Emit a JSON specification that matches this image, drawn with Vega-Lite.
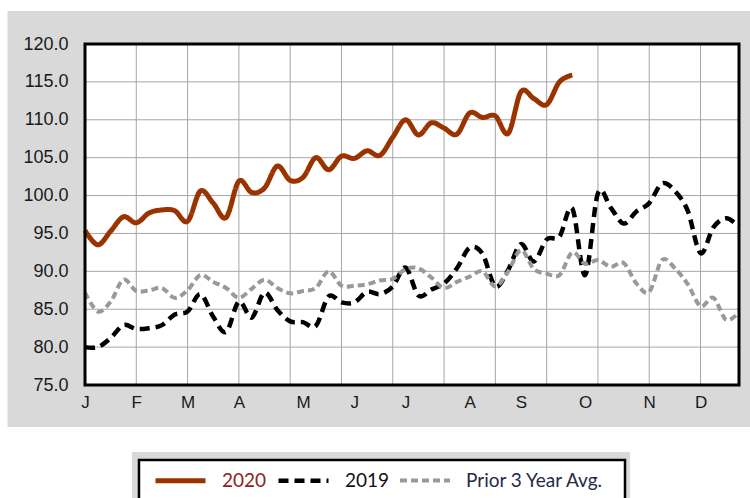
{
  "$schema": "https://vega.github.io/schema/vega-lite/v6.json",
  "width": 654,
  "height": 341,
  "autosize": {"type": "none"},
  "padding": {"left": 85, "top": 44, "right": 11, "bottom": 113},
  "background": "#d9d9d9",
  "config": {"view": {"stroke": null, "fill": "white"}},
  "datasets": {
    "sales": [
      {"week": 1, "series": "2020", "value": 95.4},
      {"week": 2, "series": "2020", "value": 93.5},
      {"week": 3, "series": "2020", "value": 95.3},
      {"week": 4, "series": "2020", "value": 97.2},
      {"week": 5, "series": "2020", "value": 96.4},
      {"week": 6, "series": "2020", "value": 97.7},
      {"week": 7, "series": "2020", "value": 98.1},
      {"week": 8, "series": "2020", "value": 98.0},
      {"week": 9, "series": "2020", "value": 96.6},
      {"week": 10, "series": "2020", "value": 100.6},
      {"week": 11, "series": "2020", "value": 99.0},
      {"week": 12, "series": "2020", "value": 97.1},
      {"week": 13, "series": "2020", "value": 101.9},
      {"week": 14, "series": "2020", "value": 100.4},
      {"week": 15, "series": "2020", "value": 101.0},
      {"week": 16, "series": "2020", "value": 103.9},
      {"week": 17, "series": "2020", "value": 102.0},
      {"week": 18, "series": "2020", "value": 102.4},
      {"week": 19, "series": "2020", "value": 105.0},
      {"week": 20, "series": "2020", "value": 103.4},
      {"week": 21, "series": "2020", "value": 105.2},
      {"week": 22, "series": "2020", "value": 104.9},
      {"week": 23, "series": "2020", "value": 105.9},
      {"week": 24, "series": "2020", "value": 105.3},
      {"week": 25, "series": "2020", "value": 107.7},
      {"week": 26, "series": "2020", "value": 110.0},
      {"week": 27, "series": "2020", "value": 108.0},
      {"week": 28, "series": "2020", "value": 109.6},
      {"week": 29, "series": "2020", "value": 108.9},
      {"week": 30, "series": "2020", "value": 108.1},
      {"week": 31, "series": "2020", "value": 110.9},
      {"week": 32, "series": "2020", "value": 110.3},
      {"week": 33, "series": "2020", "value": 110.5},
      {"week": 34, "series": "2020", "value": 108.2},
      {"week": 35, "series": "2020", "value": 113.7},
      {"week": 36, "series": "2020", "value": 112.8},
      {"week": 37, "series": "2020", "value": 112.0},
      {"week": 38, "series": "2020", "value": 115.0},
      {"week": 39, "series": "2020", "value": 115.9},
      {"week": 1, "series": "2019", "value": 80.0},
      {"week": 2, "series": "2019", "value": 80.0},
      {"week": 3, "series": "2019", "value": 81.2},
      {"week": 4, "series": "2019", "value": 82.9},
      {"week": 5, "series": "2019", "value": 82.4},
      {"week": 6, "series": "2019", "value": 82.5},
      {"week": 7, "series": "2019", "value": 82.9},
      {"week": 8, "series": "2019", "value": 84.3},
      {"week": 9, "series": "2019", "value": 84.7},
      {"week": 10, "series": "2019", "value": 87.0},
      {"week": 11, "series": "2019", "value": 84.0},
      {"week": 12, "series": "2019", "value": 82.0},
      {"week": 13, "series": "2019", "value": 86.0},
      {"week": 14, "series": "2019", "value": 83.9},
      {"week": 15, "series": "2019", "value": 87.2},
      {"week": 16, "series": "2019", "value": 84.9},
      {"week": 17, "series": "2019", "value": 83.4},
      {"week": 18, "series": "2019", "value": 83.3},
      {"week": 19, "series": "2019", "value": 82.8},
      {"week": 20, "series": "2019", "value": 86.7},
      {"week": 21, "series": "2019", "value": 85.9},
      {"week": 22, "series": "2019", "value": 85.9},
      {"week": 23, "series": "2019", "value": 87.3},
      {"week": 24, "series": "2019", "value": 87.0},
      {"week": 25, "series": "2019", "value": 88.0},
      {"week": 26, "series": "2019", "value": 90.5},
      {"week": 27, "series": "2019", "value": 86.8},
      {"week": 28, "series": "2019", "value": 87.6},
      {"week": 29, "series": "2019", "value": 88.4},
      {"week": 30, "series": "2019", "value": 90.4},
      {"week": 31, "series": "2019", "value": 93.1},
      {"week": 32, "series": "2019", "value": 92.3},
      {"week": 33, "series": "2019", "value": 88.0},
      {"week": 34, "series": "2019", "value": 90.2},
      {"week": 35, "series": "2019", "value": 93.6},
      {"week": 36, "series": "2019", "value": 91.3},
      {"week": 37, "series": "2019", "value": 94.2},
      {"week": 38, "series": "2019", "value": 94.6},
      {"week": 39, "series": "2019", "value": 98.3},
      {"week": 40, "series": "2019", "value": 89.5},
      {"week": 41, "series": "2019", "value": 100.3},
      {"week": 42, "series": "2019", "value": 98.4},
      {"week": 43, "series": "2019", "value": 96.3},
      {"week": 44, "series": "2019", "value": 97.9},
      {"week": 45, "series": "2019", "value": 99.0},
      {"week": 46, "series": "2019", "value": 101.6},
      {"week": 47, "series": "2019", "value": 100.6},
      {"week": 48, "series": "2019", "value": 98.0},
      {"week": 49, "series": "2019", "value": 92.4},
      {"week": 50, "series": "2019", "value": 95.8},
      {"week": 51, "series": "2019", "value": 97.0},
      {"week": 52, "series": "2019", "value": 95.9},
      {"week": 1, "series": "Prior 3 Year Avg.", "value": 87.2},
      {"week": 2, "series": "Prior 3 Year Avg.", "value": 84.7},
      {"week": 3, "series": "Prior 3 Year Avg.", "value": 86.0},
      {"week": 4, "series": "Prior 3 Year Avg.", "value": 88.9},
      {"week": 5, "series": "Prior 3 Year Avg.", "value": 87.4},
      {"week": 6, "series": "Prior 3 Year Avg.", "value": 87.5},
      {"week": 7, "series": "Prior 3 Year Avg.", "value": 87.8},
      {"week": 8, "series": "Prior 3 Year Avg.", "value": 86.5},
      {"week": 9, "series": "Prior 3 Year Avg.", "value": 87.5},
      {"week": 10, "series": "Prior 3 Year Avg.", "value": 89.5},
      {"week": 11, "series": "Prior 3 Year Avg.", "value": 88.6},
      {"week": 12, "series": "Prior 3 Year Avg.", "value": 87.8},
      {"week": 13, "series": "Prior 3 Year Avg.", "value": 86.5},
      {"week": 14, "series": "Prior 3 Year Avg.", "value": 87.7},
      {"week": 15, "series": "Prior 3 Year Avg.", "value": 88.9},
      {"week": 16, "series": "Prior 3 Year Avg.", "value": 87.8},
      {"week": 17, "series": "Prior 3 Year Avg.", "value": 87.1},
      {"week": 18, "series": "Prior 3 Year Avg.", "value": 87.4},
      {"week": 19, "series": "Prior 3 Year Avg.", "value": 87.8},
      {"week": 20, "series": "Prior 3 Year Avg.", "value": 90.0},
      {"week": 21, "series": "Prior 3 Year Avg.", "value": 88.1},
      {"week": 22, "series": "Prior 3 Year Avg.", "value": 88.1},
      {"week": 23, "series": "Prior 3 Year Avg.", "value": 88.3},
      {"week": 24, "series": "Prior 3 Year Avg.", "value": 88.8},
      {"week": 25, "series": "Prior 3 Year Avg.", "value": 89.0},
      {"week": 26, "series": "Prior 3 Year Avg.", "value": 90.3},
      {"week": 27, "series": "Prior 3 Year Avg.", "value": 90.4},
      {"week": 28, "series": "Prior 3 Year Avg.", "value": 89.2},
      {"week": 29, "series": "Prior 3 Year Avg.", "value": 87.8},
      {"week": 30, "series": "Prior 3 Year Avg.", "value": 88.6},
      {"week": 31, "series": "Prior 3 Year Avg.", "value": 89.3},
      {"week": 32, "series": "Prior 3 Year Avg.", "value": 90.0},
      {"week": 33, "series": "Prior 3 Year Avg.", "value": 88.0},
      {"week": 34, "series": "Prior 3 Year Avg.", "value": 90.0},
      {"week": 35, "series": "Prior 3 Year Avg.", "value": 92.8},
      {"week": 36, "series": "Prior 3 Year Avg.", "value": 90.3},
      {"week": 37, "series": "Prior 3 Year Avg.", "value": 89.7},
      {"week": 38, "series": "Prior 3 Year Avg.", "value": 89.5},
      {"week": 39, "series": "Prior 3 Year Avg.", "value": 92.5},
      {"week": 40, "series": "Prior 3 Year Avg.", "value": 91.0},
      {"week": 41, "series": "Prior 3 Year Avg.", "value": 91.5},
      {"week": 42, "series": "Prior 3 Year Avg.", "value": 90.6},
      {"week": 43, "series": "Prior 3 Year Avg.", "value": 91.1},
      {"week": 44, "series": "Prior 3 Year Avg.", "value": 88.4},
      {"week": 45, "series": "Prior 3 Year Avg.", "value": 87.3},
      {"week": 46, "series": "Prior 3 Year Avg.", "value": 91.5},
      {"week": 47, "series": "Prior 3 Year Avg.", "value": 90.4},
      {"week": 48, "series": "Prior 3 Year Avg.", "value": 88.3},
      {"week": 49, "series": "Prior 3 Year Avg.", "value": 85.4},
      {"week": 50, "series": "Prior 3 Year Avg.", "value": 86.5},
      {"week": 51, "series": "Prior 3 Year Avg.", "value": 83.6},
      {"week": 52, "series": "Prior 3 Year Avg.", "value": 84.6}
    ],
    "gridx": [{"week": 5}, {"week": 9}, {"week": 13}, {"week": 17}, {"week": 21}, {"week": 25}, {"week": 29}, {"week": 33}, {"week": 37}, {"week": 41}, {"week": 45}, {"week": 49}],
    "gridy": [{"value": 80}, {"value": 85}, {"value": 90}, {"value": 95}, {"value": 100}, {"value": 105}, {"value": 110}, {"value": 115}]
  },
  "layer": [
    {
      "data": {"values": [{}]},
      "mark": {"type": "rect", "color": "white"},
      "encoding": {
        "x": {"datum": -12, "type": "quantitative", "title": null, "scale": {"domain": [1, 52], "nice": false, "zero": false},
          "axis": {"orient": "bottom", "values": [1, 5, 9, 13, 18, 22, 26, 31, 35, 40, 45, 49], "labelExpr": "['J','F','M','A','M','J','J','A','S','O','N','D'][indexof([1,5,9,13,18,22,26,31,35,40,45,49], datum.value)]", "grid": false, "domain": false, "ticks": false, "labelFont": "Liberation Sans", "labelFontSize": 17, "labelColor": "#1a1a1a", "labelPadding": 9, "labelFlush": false, "labelOverlap": false, "labelBound": false, "zindex": 1}},
        "x2": {"datum": 60},
        "y": {"datum": 124.36, "type": "quantitative", "title": null, "scale": {"domain": [75, 120], "nice": false, "zero": false},
          "axis": {"orient": "left", "values": [75, 80, 85, 90, 95, 100, 105, 110, 115, 120], "format": ".1f", "grid": false, "domain": false, "ticks": false, "labelFont": "Liberation Sans", "labelFontSize": 18, "labelColor": "#1a1a1a", "labelPadding": 17, "labelFlush": false, "labelOverlap": false, "labelBound": false, "zindex": 1}},
        "y2": {"datum": 135}
      }
    },
    {
      "data": {"values": [{}]},
      "mark": {"type": "rect", "color": "white"},
      "encoding": {
        "x": {"datum": -12, "type": "quantitative", "title": null,
          "axis": {"orient": "bottom", "values": [1, 5, 9, 13, 18, 22, 26, 31, 35, 40, 45, 49], "labelExpr": "['J','F','M','A','M','J','J','A','S','O','N','D'][indexof([1,5,9,13,18,22,26,31,35,40,45,49], datum.value)]", "grid": false, "domain": false, "ticks": false, "labelFont": "Liberation Sans", "labelFontSize": 17, "labelColor": "#1a1a1a", "labelPadding": 9, "labelFlush": false, "labelOverlap": false, "labelBound": false, "zindex": 1}},
        "x2": {"datum": -5.04},
        "y": {"datum": 50, "type": "quantitative", "title": null,
          "axis": {"orient": "left", "values": [75, 80, 85, 90, 95, 100, 105, 110, 115, 120], "format": ".1f", "grid": false, "domain": false, "ticks": false, "labelFont": "Liberation Sans", "labelFontSize": 18, "labelColor": "#1a1a1a", "labelPadding": 17, "labelFlush": false, "labelOverlap": false, "labelBound": false, "zindex": 1}},
        "y2": {"datum": 135}
      }
    },
    {
      "data": {"values": [{}]},
      "mark": {"type": "rect", "color": "white"},
      "encoding": {
        "x": {"datum": -12, "type": "quantitative", "title": null,
          "axis": {"orient": "bottom", "values": [1, 5, 9, 13, 18, 22, 26, 31, 35, 40, 45, 49], "labelExpr": "['J','F','M','A','M','J','J','A','S','O','N','D'][indexof([1,5,9,13,18,22,26,31,35,40,45,49], datum.value)]", "grid": false, "domain": false, "ticks": false, "labelFont": "Liberation Sans", "labelFontSize": 17, "labelColor": "#1a1a1a", "labelPadding": 9, "labelFlush": false, "labelOverlap": false, "labelBound": false, "zindex": 1}},
        "x2": {"datum": 60},
        "y": {"datum": 69.46, "type": "quantitative", "title": null,
          "axis": {"orient": "left", "values": [75, 80, 85, 90, 95, 100, 105, 110, 115, 120], "format": ".1f", "grid": false, "domain": false, "ticks": false, "labelFont": "Liberation Sans", "labelFontSize": 18, "labelColor": "#1a1a1a", "labelPadding": 17, "labelFlush": false, "labelOverlap": false, "labelBound": false, "zindex": 1}},
        "y2": {"datum": 50}
      }
    },
    {
      "data": {"values": [{}]},
      "mark": {"type": "rect", "color": "#d9d9d9"},
      "encoding": {
        "x": {"datum": 4.66, "type": "quantitative", "title": null,
          "axis": {"orient": "bottom", "values": [1, 5, 9, 13, 18, 22, 26, 31, 35, 40, 45, 49], "labelExpr": "['J','F','M','A','M','J','J','A','S','O','N','D'][indexof([1,5,9,13,18,22,26,31,35,40,45,49], datum.value)]", "grid": false, "domain": false, "ticks": false, "labelFont": "Liberation Sans", "labelFontSize": 17, "labelColor": "#1a1a1a", "labelPadding": 9, "labelFlush": false, "labelOverlap": false, "labelBound": false, "zindex": 1}},
        "x2": {"datum": 43.5},
        "y": {"datum": 66.16, "type": "quantitative", "title": null,
          "axis": {"orient": "left", "values": [75, 80, 85, 90, 95, 100, 105, 110, 115, 120], "format": ".1f", "grid": false, "domain": false, "ticks": false, "labelFont": "Liberation Sans", "labelFontSize": 18, "labelColor": "#1a1a1a", "labelPadding": 17, "labelFlush": false, "labelOverlap": false, "labelBound": false, "zindex": 1}},
        "y2": {"datum": 57}
      }
    },
    {
      "data": {"values": [{}]},
      "mark": {"type": "rect", "fill": "white", "stroke": "black", "strokeWidth": 2.5},
      "encoding": {
        "x": {"datum": 5.21, "type": "quantitative", "title": null,
          "axis": {"orient": "bottom", "values": [1, 5, 9, 13, 18, 22, 26, 31, 35, 40, 45, 49], "labelExpr": "['J','F','M','A','M','J','J','A','S','O','N','D'][indexof([1,5,9,13,18,22,26,31,35,40,45,49], datum.value)]", "grid": false, "domain": false, "ticks": false, "labelFont": "Liberation Sans", "labelFontSize": 17, "labelColor": "#1a1a1a", "labelPadding": 9, "labelFlush": false, "labelOverlap": false, "labelBound": false, "zindex": 1}},
        "x2": {"datum": 43.11},
        "y": {"datum": 65.1, "type": "quantitative", "title": null,
          "axis": {"orient": "left", "values": [75, 80, 85, 90, 95, 100, 105, 110, 115, 120], "format": ".1f", "grid": false, "domain": false, "ticks": false, "labelFont": "Liberation Sans", "labelFontSize": 18, "labelColor": "#1a1a1a", "labelPadding": 17, "labelFlush": false, "labelOverlap": false, "labelBound": false, "zindex": 1}},
        "y2": {"datum": 56}
      }
    },
    {
      "data": {"name": "gridx"},
      "mark": {"type": "rule", "color": "#a6a6a6", "strokeWidth": 1},
      "encoding": {"x": {"field": "week", "type": "quantitative", "title": null,
          "axis": {"orient": "bottom", "values": [1, 5, 9, 13, 18, 22, 26, 31, 35, 40, 45, 49], "labelExpr": "['J','F','M','A','M','J','J','A','S','O','N','D'][indexof([1,5,9,13,18,22,26,31,35,40,45,49], datum.value)]", "grid": false, "domain": false, "ticks": false, "labelFont": "Liberation Sans", "labelFontSize": 17, "labelColor": "#1a1a1a", "labelPadding": 9, "labelFlush": false, "labelOverlap": false, "labelBound": false, "zindex": 1}}}
    },
    {
      "data": {"name": "gridy"},
      "mark": {"type": "rule", "color": "#a6a6a6", "strokeWidth": 1},
      "encoding": {"y": {"field": "value", "type": "quantitative", "title": null,
          "axis": {"orient": "left", "values": [75, 80, 85, 90, 95, 100, 105, 110, 115, 120], "format": ".1f", "grid": false, "domain": false, "ticks": false, "labelFont": "Liberation Sans", "labelFontSize": 18, "labelColor": "#1a1a1a", "labelPadding": 17, "labelFlush": false, "labelOverlap": false, "labelBound": false, "zindex": 1}}}
    },
    {
      "data": {"name": "sales"},
      "mark": {"type": "line", "interpolate": "cardinal", "strokeCap": "butt", "strokeJoin": "round"},
      "encoding": {
        "x": {"field": "week", "type": "quantitative", "title": null,
          "axis": {"orient": "bottom", "values": [1, 5, 9, 13, 18, 22, 26, 31, 35, 40, 45, 49], "labelExpr": "['J','F','M','A','M','J','J','A','S','O','N','D'][indexof([1,5,9,13,18,22,26,31,35,40,45,49], datum.value)]", "grid": false, "domain": false, "ticks": false, "labelFont": "Liberation Sans", "labelFontSize": 17, "labelColor": "#1a1a1a", "labelPadding": 9, "labelFlush": false, "labelOverlap": false, "labelBound": false, "zindex": 1}},
        "y": {"field": "value", "type": "quantitative", "title": null,
          "axis": {"orient": "left", "values": [75, 80, 85, 90, 95, 100, 105, 110, 115, 120], "format": ".1f", "grid": false, "domain": false, "ticks": false, "labelFont": "Liberation Sans", "labelFontSize": 18, "labelColor": "#1a1a1a", "labelPadding": 17, "labelFlush": false, "labelOverlap": false, "labelBound": false, "zindex": 1}},
        "color": {
          "field": "series", "type": "nominal",
          "scale": {"domain": ["2020", "2019", "Prior 3 Year Avg."], "range": ["#9a3300", "#000000", "#999999"]},
          "legend": {
            "title": null,
            "orient": "none",
            "legendX": 68,
            "legendY": 409,
            "direction": "horizontal",
            "symbolType": "stroke",
            "symbolSize": 2500,
            "labelFont": "Lato",
            "labelFontSize": 19,
            "labelOffset": 14,
            "columnPadding": 2,
            "padding": 0,
            "encode": {
              "labels": {"update": {
                "fill": {"signal": "datum.value === '2020' ? '#8b2323' : datum.value === '2019' ? '#111111' : '#1f2a48'"}
              }}
            }
          }
        },
        "strokeDash": {
          "field": "series", "type": "nominal", "legend": null,
          "scale": {"domain": ["2020", "2019", "Prior 3 Year Avg."], "range": [[1, 0], [10, 6], [7, 4]]}
        },
        "strokeWidth": {
          "field": "series", "type": "nominal", "legend": null,
          "scale": {"domain": ["2020", "2019", "Prior 3 Year Avg."], "range": [5, 4, 2.5]}
        }
      }
    },
    {
      "data": {"values": [{}]},
      "mark": {"type": "rect", "filled": false, "stroke": "black", "strokeWidth": 3},
      "encoding": {
        "x": {"datum": 1, "type": "quantitative", "title": null,
          "axis": {"orient": "bottom", "values": [1, 5, 9, 13, 18, 22, 26, 31, 35, 40, 45, 49], "labelExpr": "['J','F','M','A','M','J','J','A','S','O','N','D'][indexof([1,5,9,13,18,22,26,31,35,40,45,49], datum.value)]", "grid": false, "domain": false, "ticks": false, "labelFont": "Liberation Sans", "labelFontSize": 17, "labelColor": "#1a1a1a", "labelPadding": 9, "labelFlush": false, "labelOverlap": false, "labelBound": false, "zindex": 1}},
        "x2": {"datum": 52},
        "y": {"datum": 75, "type": "quantitative", "title": null,
          "axis": {"orient": "left", "values": [75, 80, 85, 90, 95, 100, 105, 110, 115, 120], "format": ".1f", "grid": false, "domain": false, "ticks": false, "labelFont": "Liberation Sans", "labelFontSize": 18, "labelColor": "#1a1a1a", "labelPadding": 17, "labelFlush": false, "labelOverlap": false, "labelBound": false, "zindex": 1}},
        "y2": {"datum": 120}
      }
    }
  ]
}
